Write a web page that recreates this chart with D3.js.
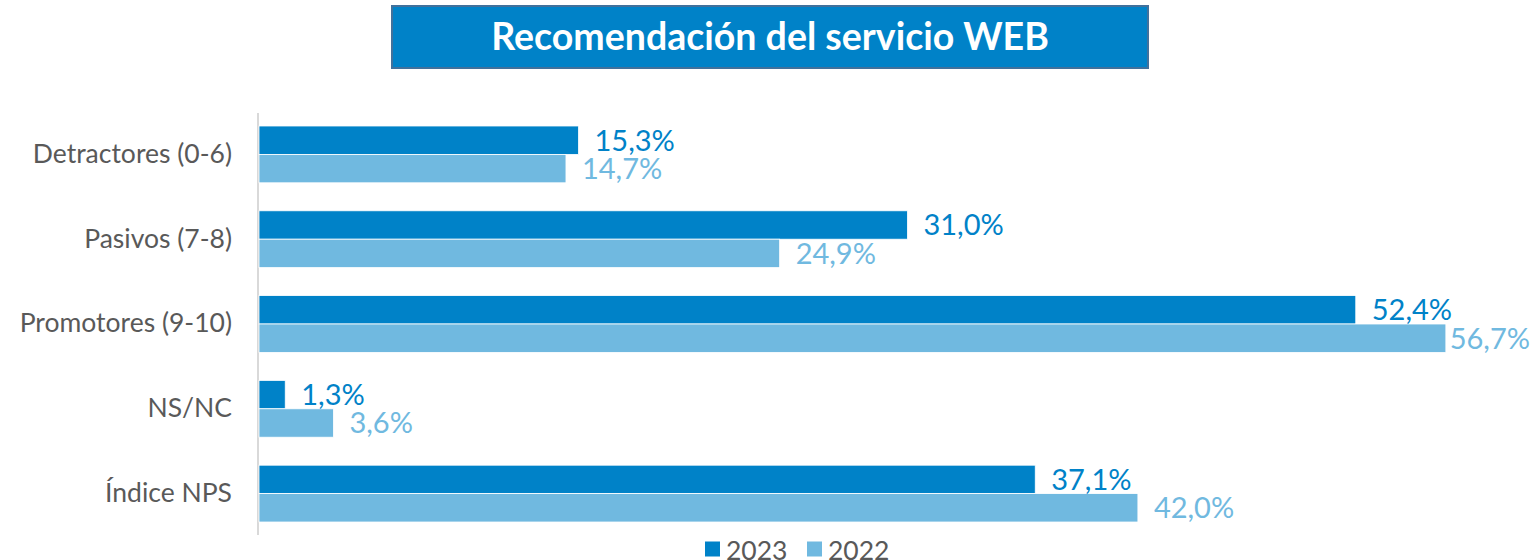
<!DOCTYPE html>
<html>
<head>
<meta charset="utf-8">
<script src="https://cdn.jsdelivr.net/npm/d3@7"></script>
<style>
  html, body { margin: 0; padding: 0; background: #fff; }
  svg { display: block; font-family: Lato, "Open Sans", sans-serif; }
</style>
</head>
<body>
<svg id="chart" width="1536" height="560"></svg>
<script>
const title = "Recomendación del servicio WEB";
const categories = ["Detractores (0-6)", "Pasivos (7-8)", "Promotores (9-10)", "NS/NC", "Índice NPS"];
const seriesNames = ["2023", "2022"];
const values2023 = [15.3, 31.0, 52.4, 1.3, 37.1];
const values2022 = [14.7, 24.9, 56.7, 3.6, 42.0];
const colors = ["#0082c8", "#70b9e0"];

const W = 1536, H = 560;
const svg = d3.select("#chart");
const margin = { left: 258, top: 112, bottom: 536 };

const x = d3.scaleLinear().domain([0, 10]).range([margin.left, margin.left + 209.5]);
const y = d3.scaleBand().domain(categories).range([margin.top, margin.bottom])
  .paddingInner(0.33).paddingOuter(0.165);
const ySub = d3.scaleBand().domain(seriesNames).range([0, y.bandwidth()]);

const fmt = v => d3.format(".1f")(v).replace(".", ",") + "%";

// Title box
const tb = svg.append("g");
tb.append("rect").attr("x", 392).attr("y", 6).attr("width", 756).attr("height", 62)
  .attr("fill", "#0082c8").attr("stroke", "#41719c").attr("stroke-width", 2);
tb.append("text").attr("x", 770).attr("y", 50).attr("text-anchor", "middle")
  .attr("fill", "#fff").attr("font-weight", "bold").attr("font-size", 37.5).text(title);

// Category labels
const yAxis = d3.axisLeft(y).tickSize(0).tickPadding(26);
const ga = svg.append("g").attr("transform", `translate(${margin.left},0)`).call(yAxis);
ga.select(".domain").remove();
ga.selectAll("text").attr("font-size", 26.5).attr("fill", "#595959")
  .attr("font-family", "Lato, 'Open Sans', sans-serif");

// axis line
svg.append("line").attr("x1", margin.left).attr("x2", margin.left)
  .attr("y1", margin.top + 1).attr("y2", margin.bottom - 1)
  .attr("stroke", "#d9d9d9").attr("stroke-width", 2);

const data = categories.map((c, i) => ({ c, vals: [values2023[i], values2022[i]] }));

const groups = svg.selectAll("g.cat").data(data).join("g").attr("class", "cat")
  .attr("transform", d => `translate(0,${y(d.c)})`);

groups.selectAll("rect").data(d => d.vals.map((v, j) => ({ v, s: seriesNames[j], j })))
  .join("rect")
  .attr("x", x(0) + 1)
  .attr("y", d => ySub(d.s))
  .attr("width", d => x(d.v) - x(0) - 1)
  .attr("height", ySub.bandwidth())
  .attr("fill", d => colors[d.j])
  .attr("stroke", "#ffffff").attr("stroke-width", 0.8);

const fs = 29;
groups.selectAll("text.val").data(d => d.vals.map((v, j) => ({ v, s: seriesNames[j], j })))
  .join("text").attr("class", "val")
  .attr("font-size", fs)
  .attr("fill", d => colors[d.j])
  .attr("y", d => ySub(d.s) + ySub.bandwidth() / 2 + fs * 0.36)
  .text(d => fmt(d.v))
  .each(function (d) {
    const tw = this.getComputedTextLength();
    let px = x(d.v) + 16;
    if (px + tw > W - 6) px = W - 6 - tw;
    d3.select(this).attr("x", px);
  });

// Legend
const lg = svg.append("g");
const legX = [705, 807];
seriesNames.forEach((s, i) => {
  lg.append("rect").attr("x", legX[i]).attr("y", 541.5).attr("width", 15).attr("height", 15)
    .attr("fill", colors[i]);
  lg.append("text").attr("x", legX[i] + 21).attr("y", 560).attr("font-size", 26.5)
    .attr("fill", "#595959").text(s);
});
</script>
</body>
</html>
